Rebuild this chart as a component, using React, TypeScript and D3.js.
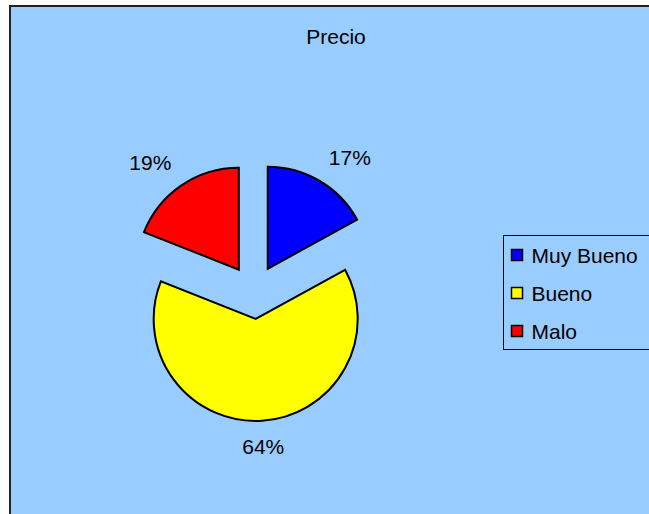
import { useEffect, useRef } from 'react';
import * as d3 from 'd3';

const categories = ['Muy Bueno', 'Bueno', 'Malo'];
const values = [17, 64, 19];
const colors = ['#0000FF', '#FFFF00', '#FF0000'];
const title = 'Precio';

const W = 649;
const H = 514;

const App = () => {
    const svgRef = useRef<SVGSVGElement>(null);

    useEffect(() => {
        const root = d3.select(svgRef.current);
        root.selectAll('*').remove();

        const font = '"Liberation Sans", Arial, sans-serif';
        const fontSize = 21;

        // chart area (runs off the right/bottom edge like the original)
        root.append('rect')
            .attr('x', 10).attr('y', 6)
            .attr('width', W + 20).attr('height', H + 20)
            .attr('fill', '#99CCFF')
            .attr('stroke', '#222').attr('stroke-width', 2);

        root.append('text')
            .attr('x', 336).attr('y', 44)
            .attr('text-anchor', 'middle')
            .attr('font-family', font).attr('font-size', fontSize)
            .attr('fill', '#000')
            .text(title);

        const cx = 254, cy = 292;
        const radius = 102;
        const explode = 27;
        const labelR = 147;

        const pie = d3.pie<number>().sort(null).startAngle(0).endAngle(2 * Math.PI);
        const arcs = pie(values);
        const arc = d3.arc<d3.PieArcDatum<number>>().innerRadius(0).outerRadius(radius);
        const mid = (d: d3.PieArcDatum<number>) => (d.startAngle + d.endAngle) / 2;

        const g = root.append('g').attr('transform', `translate(${cx},${cy})`);

        g.selectAll('path.slice')
            .data(arcs)
            .enter()
            .append('path')
            .attr('class', 'slice')
            .attr('d', arc)
            .attr('transform', d => `translate(${explode * Math.sin(mid(d))},${-explode * Math.cos(mid(d))})`)
            .attr('fill', (d, i) => colors[i])
            .attr('stroke', '#000')
            .attr('stroke-width', 2)
            .attr('stroke-linejoin', 'miter');

        const total = d3.sum(values);
        g.selectAll('text.lbl')
            .data(arcs)
            .enter()
            .append('text')
            .attr('class', 'lbl')
            .attr('x', d => labelR * Math.sin(mid(d)))
            .attr('y', d => -labelR * Math.cos(mid(d)))
            .attr('text-anchor', d => {
                const s = Math.sin(mid(d));
                return s > 0.3 ? 'start' : s < -0.3 ? 'end' : 'middle';
            })
            .attr('dy', d => Math.cos(mid(d)) > 0 ? '0' : '0.75em')
            .attr('font-family', font).attr('font-size', fontSize)
            .attr('fill', '#000')
            .text(d => `${Math.round((d.value / total) * 100)}%`);

        // legend
        const legend = root.append('g').attr('transform', 'translate(503.5,235.5)');
        legend.append('rect')
            .attr('width', 200).attr('height', 114)
            .attr('fill', '#99CCFF')
            .attr('stroke', '#000').attr('stroke-width', 1);

        const rowY = d3.scalePoint<string>().domain(categories).range([20, 96]);

        const item = legend.selectAll('g.item')
            .data(categories)
            .enter()
            .append('g')
            .attr('class', 'item')
            .attr('transform', d => `translate(0,${rowY(d)})`);

        item.append('rect')
            .attr('x', 8).attr('y', -6)
            .attr('width', 11).attr('height', 11)
            .attr('fill', (d, i) => colors[i])
            .attr('stroke', '#000').attr('stroke-width', 1.5);

        item.append('text')
            .attr('x', 28).attr('dy', '0.35em')
            .attr('font-family', font).attr('font-size', fontSize)
            .attr('fill', '#000')
            .text(d => d);
    }, []);

    return (
        <svg
            ref={svgRef}
            width={W}
            height={H}
            style={{ position: 'absolute', left: 0, top: 0, background: '#fff' }}
        />
    );
};

export default App;
